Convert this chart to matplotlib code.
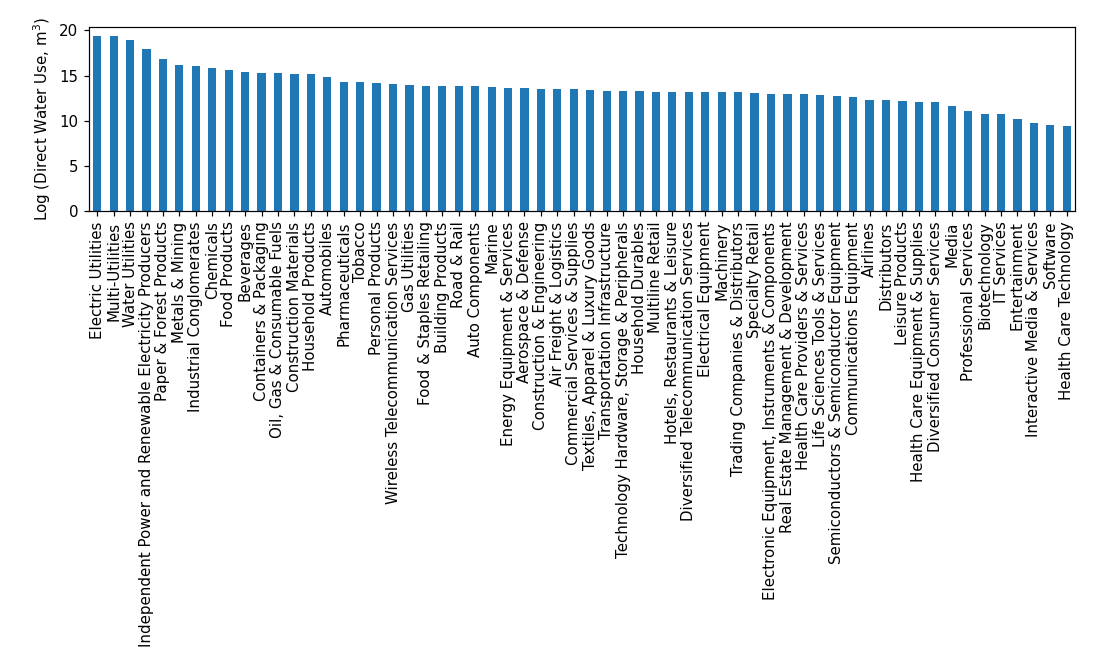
import matplotlib
matplotlib.use("Agg")
import matplotlib.pyplot as plt
import numpy as np

categories = [
    "Electric Utilities", "Multi-Utilities", "Water Utilities",
    "Independent Power and Renewable Electricity Producers",
    "Paper & Forest Products", "Metals & Mining", "Industrial Conglomerates",
    "Chemicals", "Food Products", "Beverages", "Containers & Packaging",
    "Oil, Gas & Consumable Fuels", "Construction Materials",
    "Household Products", "Automobiles", "Pharmaceuticals", "Tobacco",
    "Personal Products", "Wireless Telecommunication Services",
    "Gas Utilities", "Food & Staples Retailing", "Building Products",
    "Road & Rail", "Auto Components", "Marine",
    "Energy Equipment & Services", "Aerospace & Defense",
    "Construction & Engineering", "Air Freight & Logistics",
    "Commercial Services & Supplies", "Textiles, Apparel & Luxury Goods",
    "Transportation Infrastructure",
    "Technology Hardware, Storage & Peripherals", "Household Durables",
    "Multiline Retail", "Hotels, Restaurants & Leisure",
    "Diversified Telecommunication Services", "Electrical Equipment",
    "Machinery", "Trading Companies & Distributors", "Specialty Retail",
    "Electronic Equipment, Instruments & Components",
    "Real Estate Management & Development",
    "Health Care Providers & Services", "Life Sciences Tools & Services",
    "Semiconductors & Semiconductor Equipment", "Communications Equipment",
    "Airlines", "Distributors", "Leisure Products",
    "Health Care Equipment & Supplies", "Diversified Consumer Services",
    "Media", "Professional Services", "Biotechnology", "IT Services",
    "Entertainment", "Interactive Media & Services", "Software",
    "Health Care Technology",
]

values = [
    19.41, 19.37, 18.89, 17.89, 16.82, 16.19, 16.04, 15.82, 15.64, 15.38,
    15.23, 15.23, 15.19, 15.16, 14.86, 14.34, 14.34, 14.23, 14.05, 13.97,
    13.90, 13.90, 13.90, 13.90, 13.72, 13.64, 13.60, 13.53, 13.46, 13.46,
    13.42, 13.31, 13.31, 13.27, 13.23, 13.20, 13.20, 13.16, 13.16, 13.14,
    13.09, 12.98, 12.98, 12.98, 12.90, 12.72, 12.61, 12.35, 12.24, 12.20,
    12.09, 12.05, 11.61, 11.09, 10.79, 10.79, 10.24, 9.76, 9.57, 9.39,
]

DPI = 108
fig = plt.figure(figsize=(1096 / DPI, 662 / DPI), dpi=DPI)
ax = fig.add_axes([89/1096, 1 - 211/662, (1075 - 89)/1096, (211 - 27)/662])

x = np.arange(len(categories))
ax.bar(x, values, width=0.5, color="#1f77b4")
ax.set_xlim(-0.5, len(categories) - 0.5)
ax.set_ylim(0, max(values) * 1.05)
ax.set_xticks(x)
ax.set_xticklabels(categories, rotation=90, fontsize=10)
ax.set_yticks([0, 5, 10, 15, 20])
ax.set_ylabel("Log (Direct Water Use, m$^3$)", fontsize=10)

fig.savefig("out.png", dpi=DPI)
